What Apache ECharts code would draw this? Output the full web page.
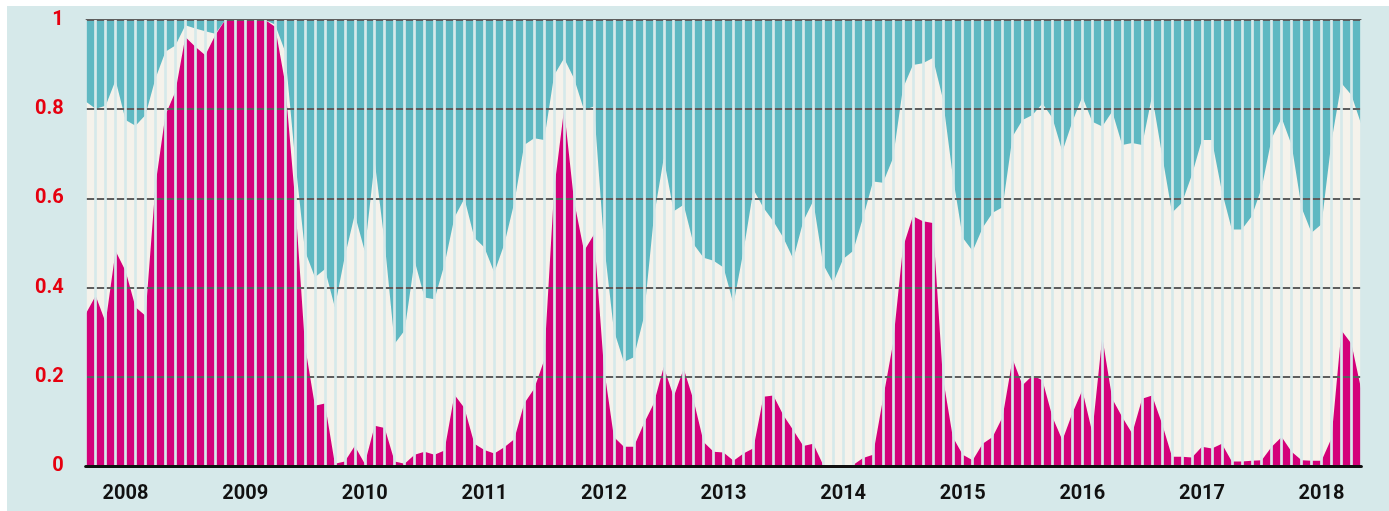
<!DOCTYPE html>
<html>
<head>
<meta charset="utf-8">
<title>chart</title>
<script src="https://cdn.jsdelivr.net/npm/echarts@6/dist/echarts.min.js"></script>
<style>
  html, body {
    margin: 0;
    padding: 0;
    background: #ffffff;
  }
  #chart {
    position: absolute;
    left: 7px;
    top: 6px;
    width: 1382px;
    height: 505px;
    background: #d6e9ea;
  }
</style>
</head>
<body>
<div id="chart"></div>
<script>
// month boundaries, Sep 2007 .. May 2018
let months = [];
for (let y = 2007; y <= 2018; y++) {
  for (let m = 1; m <= 12; m++) {
    if (y === 2007 && m < 9) continue;
    if (y === 2018 && m > 5) continue;
    months.push(y + "-" + (m < 10 ? "0" + m : m));
  }
}

// top of the magenta band (bottom share)
let magentaTop = [
  0.341, 0.382, 0.322, 0.482, 0.437, 0.356, 0.337, 0.63, 0.787, 0.839,
  0.962, 0.94, 0.921, 0.966, 1, 1, 1, 1, 1, 0.985,
  0.86, 0.6, 0.27, 0.135, 0.14, 0.005, 0.01, 0.045, 0.005, 0.09,
  0.085, 0.01, 0.005, 0.025, 0.032, 0.025, 0.035, 0.16, 0.13, 0.05,
  0.036, 0.028, 0.042, 0.06, 0.14, 0.173, 0.237, 0.62, 0.8, 0.594,
  0.482, 0.519, 0.22, 0.065, 0.043, 0.043, 0.095, 0.14, 0.222, 0.155,
  0.218, 0.147, 0.054, 0.032, 0.03, 0.012, 0.028, 0.04, 0.155, 0.158,
  0.114, 0.08, 0.045, 0.05, 0.002, 0.002, 0, 0.002, 0.018, 0.025,
  0.15, 0.274, 0.49, 0.56, 0.549, 0.545, 0.2, 0.065, 0.025, 0.013,
  0.05, 0.065, 0.11, 0.24, 0.181, 0.203, 0.192, 0.11, 0.058, 0.118,
  0.17, 0.075, 0.289, 0.151, 0.11, 0.073, 0.151, 0.158, 0.095, 0.021,
  0.021, 0.019, 0.043, 0.039, 0.05, 0.01, 0.01, 0.012, 0.013, 0.043,
  0.065, 0.032, 0.013, 0.012, 0.012, 0.062, 0.304, 0.274, 0.17
];

// top of the cream band (magenta + cream)
let creamTop = [
  0.817, 0.801, 0.808, 0.865, 0.776, 0.763, 0.787, 0.869, 0.929, 0.943,
  0.988, 0.981, 0.975, 0.969, 1, 1, 1, 1, 1, 0.99,
  0.93, 0.69, 0.482, 0.423, 0.441, 0.356, 0.47, 0.564, 0.482, 0.683,
  0.5, 0.274, 0.304, 0.46, 0.378, 0.374, 0.452, 0.557, 0.6, 0.512,
  0.49, 0.434, 0.497, 0.59, 0.72, 0.735, 0.731, 0.876, 0.914, 0.869,
  0.798, 0.806, 0.5, 0.304, 0.233, 0.244, 0.333, 0.557, 0.69, 0.571,
  0.586, 0.497, 0.467, 0.46, 0.445, 0.363, 0.482, 0.62, 0.579, 0.549,
  0.512, 0.464, 0.549, 0.594, 0.452, 0.411, 0.464, 0.482, 0.557, 0.638,
  0.635, 0.69, 0.847, 0.899, 0.903, 0.915, 0.824, 0.65, 0.512, 0.482,
  0.534, 0.568, 0.58, 0.739, 0.776, 0.787, 0.813, 0.78, 0.705, 0.772,
  0.828, 0.772, 0.761, 0.795, 0.72, 0.724, 0.72, 0.83, 0.698, 0.568,
  0.59, 0.653, 0.731, 0.731, 0.616, 0.53, 0.53, 0.56, 0.624, 0.735,
  0.78, 0.72, 0.579, 0.523, 0.542, 0.728, 0.858, 0.832, 0.765
];

let yTicks = [0, 0.2, 0.4, 0.6, 0.8, 1];

let bg = "#d6e9ea";
let teal = "#5fb8c2";
let cream = "#f5f2eb";
let magenta = "#d4007a";

let myChart = echarts.init(document.getElementById("chart"));

let option = {
  animation: false,
  grid: {
    left: 78.7,
    right: 27.6,
    top: 14,
    bottom: 45,
    show: true,
    backgroundColor: teal, // top band = remainder up to 1
    borderWidth: 0
  },
  xAxis: {
    type: "category",
    data: months,
    boundaryGap: false,
    z: 5,
    axisLine: {
      show: true,
      lineStyle: { color: "#111111", width: 3 }
    },
    axisTick: { show: false },
    // vertical stripes in the background colour
    splitLine: {
      show: true,
      interval: 0,
      lineStyle: { color: bg, width: 2.7, type: "solid" }
    },
    axisLabel: {
      interval: function (index, value) {
        return value.slice(5) === "01";
      },
      formatter: function (value) {
        return value.slice(0, 4);
      },
      margin: 18,
      color: "#111111",
      fontFamily: "Roboto",
      fontWeight: "bold",
      fontSize: 20
    }
  },
  yAxis: {
    type: "value",
    min: yTicks[0],
    max: yTicks[yTicks.length - 1],
    interval: 0.2,
    z: 4,
    axisLine: { show: false },
    axisTick: { show: false },
    splitLine: {
      show: true,
      lineStyle: { color: "#5e5e5e", width: 2, type: "solid" }
    },
    axisLabel: {
      margin: 22,
      color: "#e6000f",
      fontFamily: "Roboto",
      fontWeight: "bold",
      fontSize: 20
    }
  },
  series: [
    {
      name: "cream",
      type: "line",
      data: creamTop,
      symbol: "none",
      lineStyle: { width: 0 },
      areaStyle: { color: cream, opacity: 1 },
      z: 2
    },
    {
      name: "magenta",
      type: "line",
      data: magentaTop,
      symbol: "none",
      lineStyle: { width: 0 },
      areaStyle: { color: magenta, opacity: 1 },
      z: 3
    }
  ]
};

myChart.setOption(option);
</script>
</body>
</html>
